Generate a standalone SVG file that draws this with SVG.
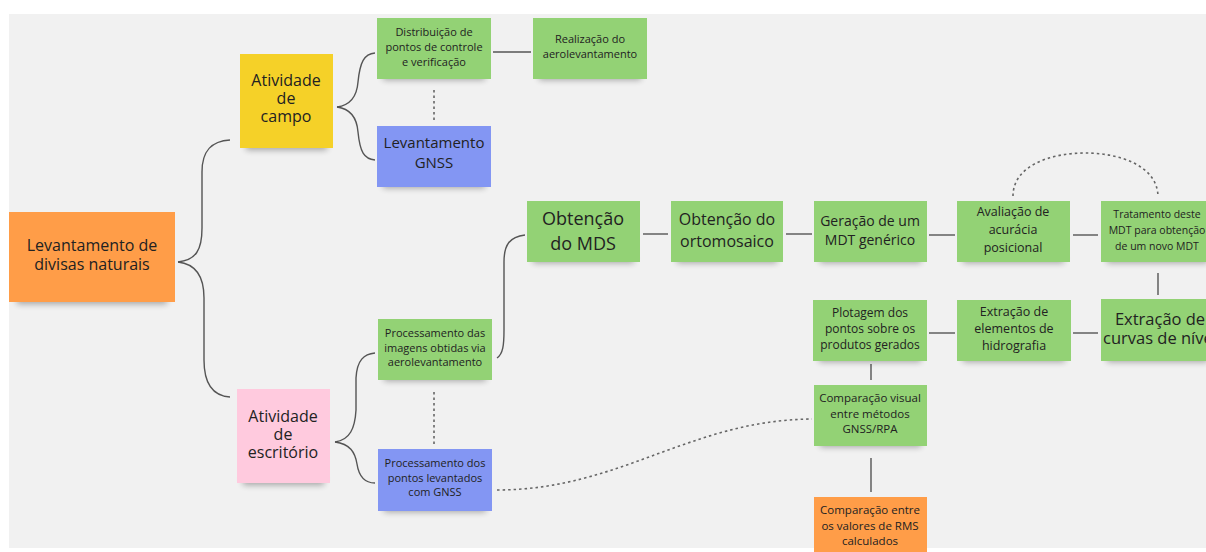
<svg xmlns="http://www.w3.org/2000/svg" width="1206" height="552" viewBox="0 0 1206 552">
<defs>
<filter id="blur" x="-20%" y="-100%" width="140%" height="300%"><feGaussianBlur stdDeviation="3"/></filter>
<style>
.sh{fill:#000;opacity:.32;filter:url(#blur)}
.t{font-family:"Open Sans","Noto Sans",sans-serif;fill:#222;text-anchor:middle}
.green{fill:#93d275}
.yellow{fill:#f5d128}
.orange{fill:#ff9d48}
.pink{fill:#ffcade}
.blue{fill:#8396f3}
.ln{fill:none;stroke:#555;stroke-width:1.4}
.dot{fill:none;stroke:#666;stroke-width:1.6;stroke-dasharray:2.5 3}
</style>
</defs>
<rect width="1206" height="552" fill="#ffffff"/>
<rect x="9" y="14" width="1197" height="534" fill="#f1f1f1"/>

<g id="connectors">
<path class="ln" d="M178,262 C196,260 202,250 202,228 L202,172 C202,150 212,141 230,140"/>
<path class="ln" d="M178,262 C196,264 204,276 204,298 L204,360 C204,386 214,396 230,397"/>
<path class="ln" d="M337,107 C352,105 357,95 358,82 C360,62 364,54 375,53"/>
<path class="ln" d="M337,107 C352,109 357,119 358,132 C360,152 364,159 375,160"/>
<path class="ln" d="M335,442 C350,440 355,428 356,410 L356,378 C357,360 364,354 375,353"/>
<path class="ln" d="M335,442 C350,444 355,452 357,464 C359,477 365,483 375,483"/>
<path class="ln" d="M493,52 L531,52"/>
<path class="dot" d="M434,90 L434,121"/>
<path class="dot" d="M434,392 L434,445"/>
<path class="ln" d="M497,358 C503,354 504,345 504,330 L504,262 C504,244 510,237 525,235"/>
<path class="ln" d="M643,234 L668,234"/>
<path class="ln" d="M786,234 L812,234"/>
<path class="ln" d="M929,235 L955,235"/>
<path class="ln" d="M1073,235 L1098,235"/>
<path class="dot" d="M1013,196 C1013,166 1050,153 1085,153 C1120,153 1158,166 1158,197"/>
<path class="ln" d="M1158,273 L1158,295"/>
<path class="ln" d="M1073,333 L1098,333"/>
<path class="ln" d="M929,333 L955,333"/>
<path class="ln" d="M871,364 L871,380"/>
<path class="ln" d="M871,458 L871,492"/>
<path class="dot" d="M497,490 C620,490 690,420 812,419"/>
</g>

<g id="n-root">
<rect class="sh" x="17" y="292" width="150" height="12"/>
<rect class="orange" x="9" y="212" width="166" height="90"/>
<text class="t" font-size="16"><tspan x="92" y="251">Levantamento de</tspan><tspan x="92" y="270">divisas naturais</tspan></text>
</g>

<g id="n-campo">
<rect class="sh" x="246" y="138" width="81" height="12"/>
<rect class="yellow" x="240" y="54" width="93" height="94"/>
<text class="t" font-size="16"><tspan x="286" y="86">Atividade</tspan><tspan x="286" y="104">de</tspan><tspan x="286" y="122">campo</tspan></text>
</g>

<g id="n-escritorio">
<rect class="sh" x="243" y="473" width="81" height="12"/>
<rect class="pink" x="237" y="389" width="93" height="94"/>
<text class="t" font-size="16"><tspan x="283" y="422">Atividade</tspan><tspan x="283" y="440">de</tspan><tspan x="283" y="458">escritório</tspan></text>
</g>

<g id="n-distribuicao">
<rect class="sh" x="383" y="70" width="102" height="10"/>
<rect class="green" x="377" y="18" width="114" height="61"/>
<text class="t" font-size="11"><tspan x="434" y="36">Distribuição de</tspan><tspan x="434" y="51">pontos de controle</tspan><tspan x="434" y="66">e verificação</tspan></text>
</g>

<g id="n-realizacao">
<rect class="sh" x="539" y="70" width="102" height="10"/>
<rect class="green" x="533" y="18" width="114" height="61"/>
<text class="t" font-size="11"><tspan x="590" y="43">Realização do</tspan><tspan x="590" y="58">aerolevantamento</tspan></text>
</g>

<g id="n-gnss">
<rect class="sh" x="383" y="178" width="102" height="10"/>
<rect class="blue" x="377" y="126" width="114" height="61"/>
<text class="t" font-size="15"><tspan x="434" y="148">Levantamento</tspan><tspan x="434" y="168">GNSS</tspan></text>
</g>

<g id="n-proc-imagens">
<rect class="sh" x="384" y="371" width="102" height="10"/>
<rect class="green" x="378" y="319" width="114" height="61"/>
<text class="t" font-size="11"><tspan x="435" y="337">Processamento das</tspan><tspan x="435" y="352">imagens obtidas via</tspan><tspan x="435" y="366">aerolevantamento</tspan></text>
</g>

<g id="n-proc-pontos">
<rect class="sh" x="384" y="502" width="102" height="10"/>
<rect class="blue" x="378" y="449" width="114" height="62"/>
<text class="t" font-size="11"><tspan x="435" y="467">Processamento dos</tspan><tspan x="435" y="482">pontos levantados</tspan><tspan x="435" y="496">com GNSS</tspan></text>
</g>

<g id="n-mds">
<rect class="sh" x="533" y="253" width="101" height="10"/>
<rect class="green" x="527" y="201" width="113" height="61"/>
<text class="t" font-size="18"><tspan x="583" y="225">Obtenção</tspan><tspan x="583" y="250">do MDS</tspan></text>
</g>

<g id="n-orto">
<rect class="sh" x="677" y="253" width="100" height="10"/>
<rect class="green" x="671" y="201" width="112" height="61"/>
<text class="t" font-size="16"><tspan x="727" y="225">Obtenção do</tspan><tspan x="727" y="247">ortomosaico</tspan></text>
</g>

<g id="n-mdt">
<rect class="sh" x="820" y="253" width="101" height="10"/>
<rect class="green" x="814" y="201" width="113" height="61"/>
<text class="t" font-size="14"><tspan x="870" y="226">Geração de um</tspan><tspan x="870" y="245">MDT genérico</tspan></text>
</g>

<g id="n-avaliacao">
<rect class="sh" x="963" y="253" width="101" height="10"/>
<rect class="green" x="957" y="201" width="113" height="61"/>
<text class="t" font-size="12.5"><tspan x="1013" y="216">Avaliação de</tspan><tspan x="1013" y="234">acurácia</tspan><tspan x="1013" y="252">posicional</tspan></text>
</g>

<g id="n-tratamento">
<rect class="sh" x="1107" y="253" width="101" height="10"/>
<rect class="green" x="1101" y="201" width="113" height="61"/>
<text class="t" font-size="10.5"><tspan x="1157" y="218">Tratamento deste</tspan><tspan x="1157" y="234">MDT para obtenção</tspan><tspan x="1157" y="250">de um novo MDT</tspan></text>
</g>

<g id="n-curvas">
<rect class="sh" x="1107" y="352" width="101" height="10"/>
<rect class="green" x="1101" y="299" width="113" height="62"/>
<text class="t" font-size="16.5"><tspan x="1160" y="325">Extração de</tspan><tspan x="1160" y="344">curvas de nível</tspan></text>
</g>

<g id="n-hidrografia">
<rect class="sh" x="963" y="352" width="102" height="10"/>
<rect class="green" x="957" y="300" width="114" height="61"/>
<text class="t" font-size="12.5"><tspan x="1014" y="316">Extração de</tspan><tspan x="1014" y="333">elementos de</tspan><tspan x="1014" y="350">hidrografia</tspan></text>
</g>

<g id="n-plotagem">
<rect class="sh" x="819" y="352" width="102" height="10"/>
<rect class="green" x="813" y="300" width="114" height="61"/>
<text class="t" font-size="12"><tspan x="870" y="317">Plotagem dos</tspan><tspan x="870" y="333">pontos sobre os</tspan><tspan x="870" y="349">produtos gerados</tspan></text>
</g>

<g id="n-comp-visual">
<rect class="sh" x="820" y="437" width="101" height="10"/>
<rect class="green" x="814" y="385" width="113" height="61"/>
<text class="t" font-size="11.5"><tspan x="870" y="402">Comparação visual</tspan><tspan x="870" y="418">entre métodos</tspan><tspan x="870" y="433">GNSS/RPA</tspan></text>
</g>

<g id="n-comp-rms">
<rect class="orange" x="814" y="497" width="113" height="61"/>
<text class="t" font-size="11.5"><tspan x="870" y="514">Comparação entre</tspan><tspan x="870" y="530">os valores de RMS</tspan><tspan x="870" y="545">calculados</tspan></text>
</g>
</svg>
